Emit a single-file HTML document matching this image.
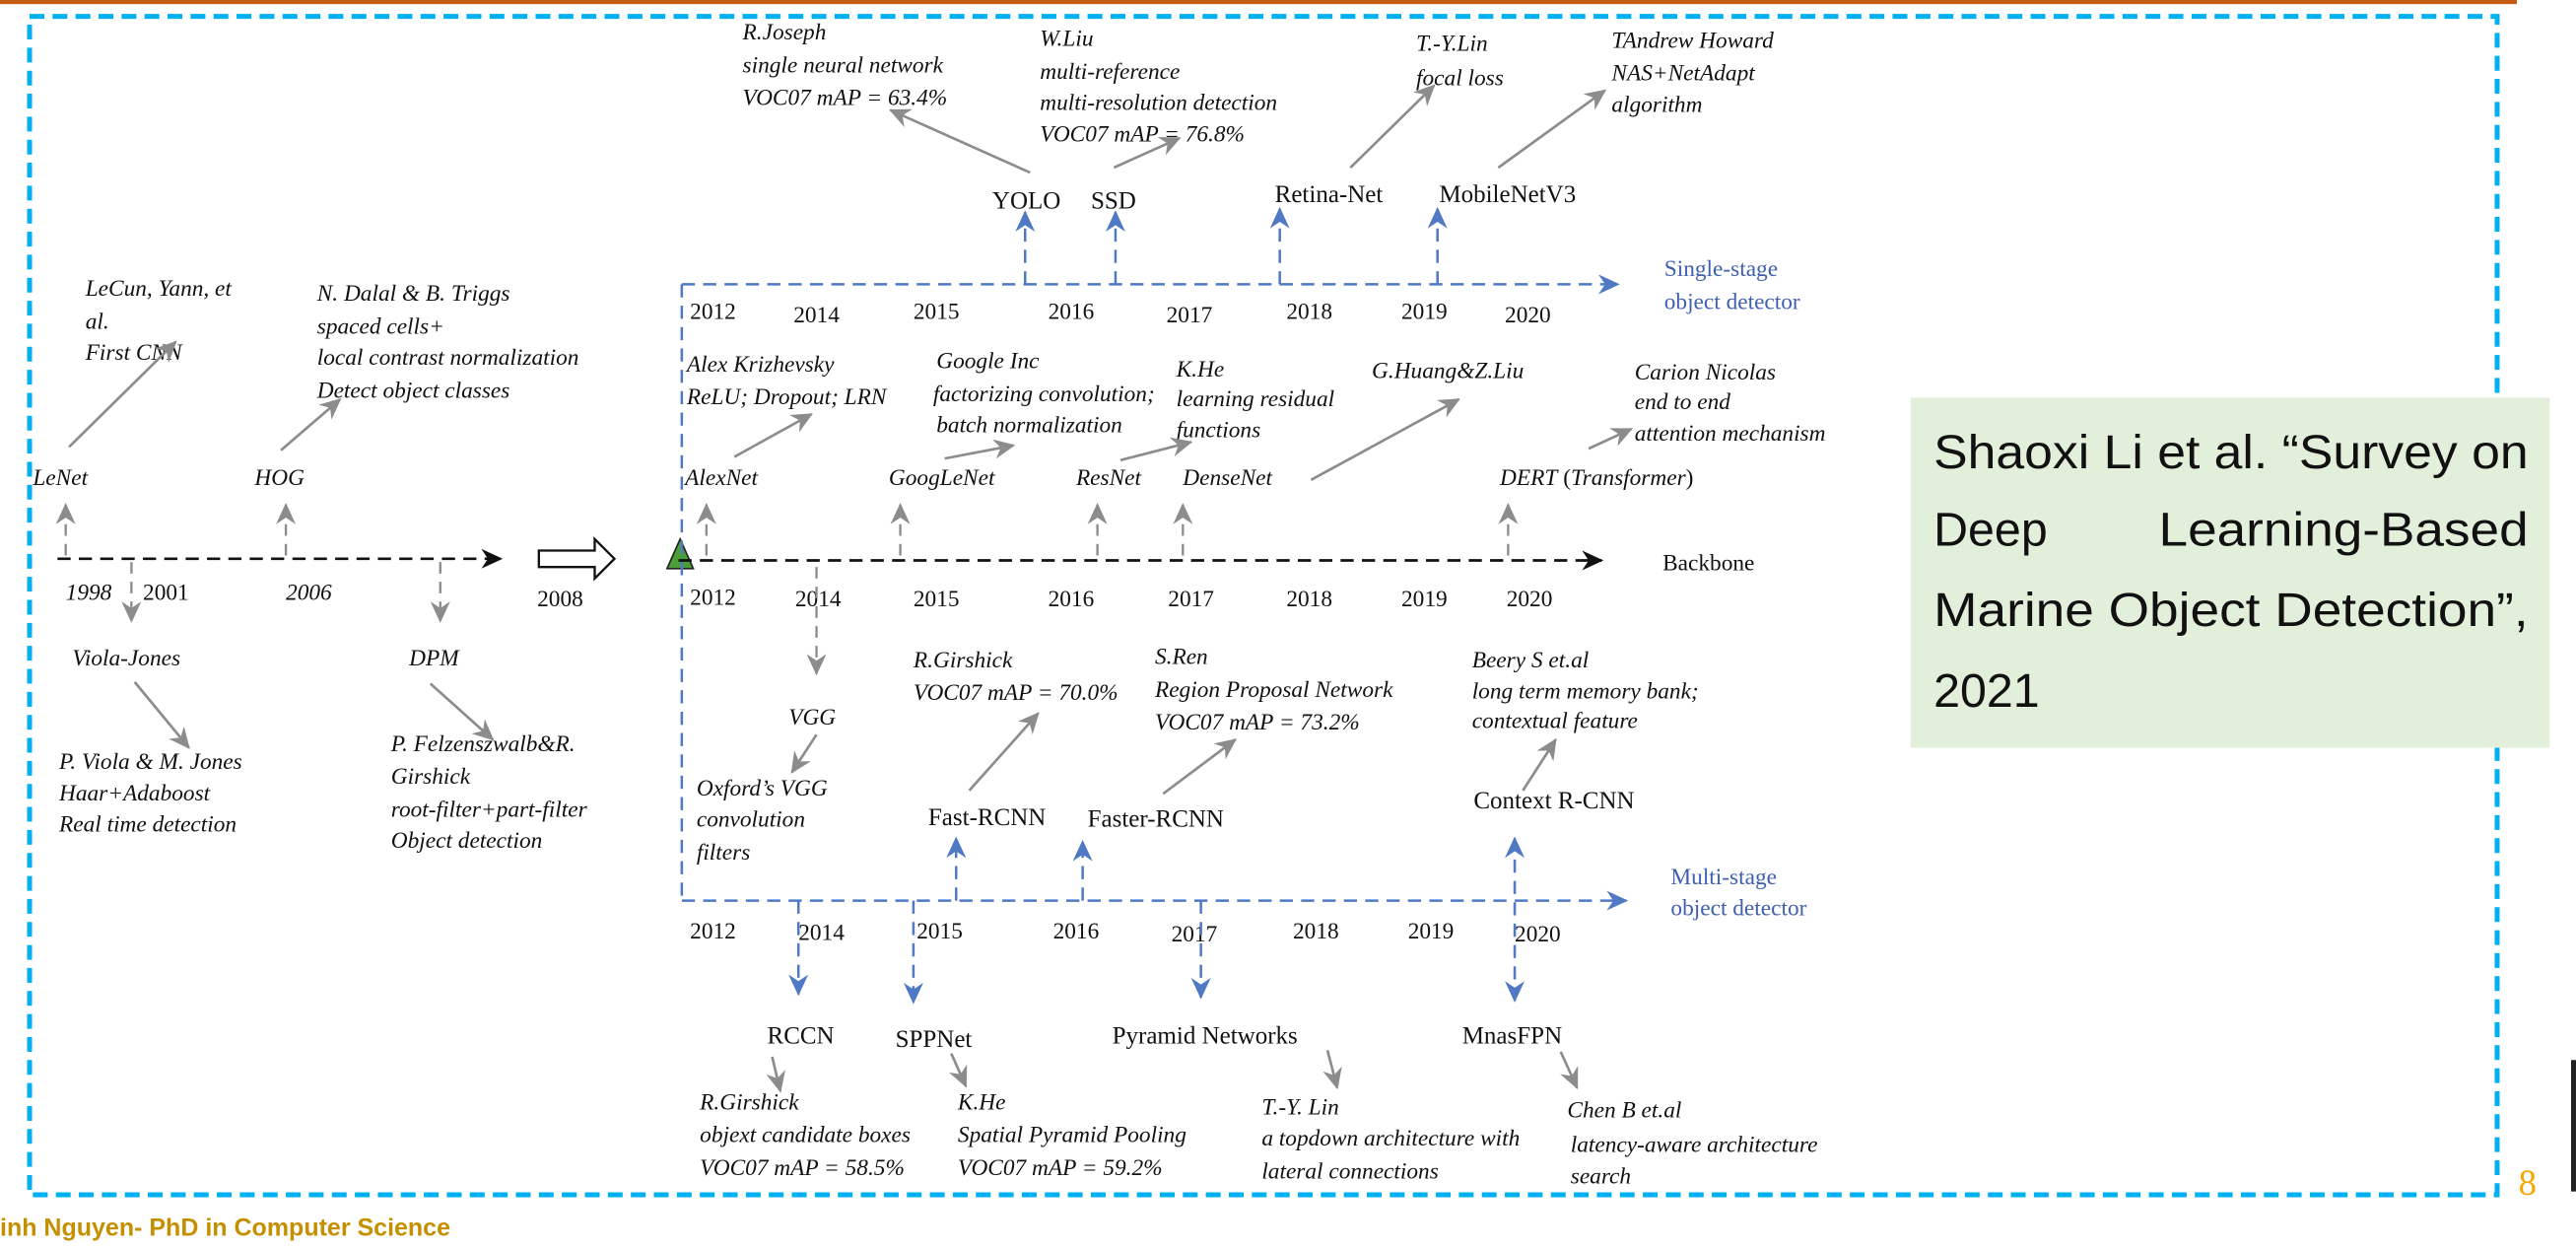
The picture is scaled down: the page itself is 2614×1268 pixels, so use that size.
<!DOCTYPE html>
<html><head><meta charset="utf-8"><style>
html,body{margin:0;padding:0;background:#fff;}
svg{display:block;}
text{font-family:"Liberation Serif",serif;font-size:14px;fill:#111;}
.i{font-style:italic;}
.b{fill:#3f5fb0;font-size:14px;}
.g{stroke:#8c8c8c;stroke-width:1.6;fill:none;}
.gd{stroke:#8c8c8c;stroke-width:1.4;fill:none;stroke-dasharray:7 5;}
.bd{stroke:#4f79c4;stroke-width:1.5;fill:none;stroke-dasharray:8 5;}
.kd{stroke:#111;stroke-width:1.6;fill:none;stroke-dasharray:8 5;}
.c{font-family:"Liberation Sans",sans-serif;font-size:29px;}
</style></head><body>
<svg width="2614" height="1268" viewBox="0 0 1568 760.6" xmlns="http://www.w3.org/2000/svg">
<defs>
<marker id="ag" markerUnits="userSpaceOnUse" markerWidth="14" markerHeight="12" refX="12" refY="6" orient="auto"><path d="M0,0 L13,6 L0,12 L4,6 Z" fill="#8c8c8c"/></marker>
<marker id="ab" markerUnits="userSpaceOnUse" markerWidth="14" markerHeight="12" refX="12" refY="6" orient="auto"><path d="M0,0 L13,6 L0,12 L4,6 Z" fill="#4f79c4"/></marker>
<marker id="abs" markerUnits="userSpaceOnUse" markerWidth="14" markerHeight="12" refX="2" refY="6" orient="auto"><path d="M14,0 L1,6 L14,12 L10,6 Z" fill="#4f79c4"/></marker>
<marker id="ak" markerUnits="userSpaceOnUse" markerWidth="14" markerHeight="12" refX="12" refY="6" orient="auto"><path d="M0,0 L13,6 L0,12 L4,6 Z" fill="#111"/></marker>
</defs>
<rect x="0" y="0" width="1532" height="2.5" fill="#c55a11"/>
<rect x="18" y="10" width="1502" height="717" fill="none" stroke="#00b0f0" stroke-width="3" stroke-dasharray="9 5"/>

<line class="kd" x1="35" y1="340" x2="305" y2="340" marker-end="url(#ak)"/>
<path d="M328,335 L362,335 L362,328 L374,340 L362,352 L362,345 L328,345 Z" fill="#fff" stroke="#111" stroke-width="1.4"/>
<polygon points="406,346 414,328 422,346" fill="#4a9e3a" stroke="#222" stroke-width="1"/>
<line class="kd" x1="413" y1="341" x2="975" y2="341" marker-end="url(#ak)"/>
<text x="1012" y="347">Backbone</text>

<g>
<text class="i" x="40" y="365">1998</text><text x="87" y="365">2001</text>
<text class="i" x="174" y="365">2006</text><text x="327" y="369">2008</text>
</g>
<g>
<text x="420" y="368">2012</text><text x="484" y="369">2014</text><text x="556" y="369">2015</text><text x="638" y="369">2016</text><text x="711" y="369">2017</text><text x="783" y="369">2018</text><text x="853" y="369">2019</text><text x="917" y="369">2020</text>
</g>

<g>
<line class="gd" x1="40" y1="338" x2="40" y2="307" marker-end="url(#ag)"/>
<line class="gd" x1="174" y1="338" x2="174" y2="307" marker-end="url(#ag)"/>
<line class="gd" x1="430" y1="338" x2="430" y2="307" marker-end="url(#ag)"/>
<line class="gd" x1="548" y1="338" x2="548" y2="307" marker-end="url(#ag)"/>
<line class="gd" x1="668" y1="338" x2="668" y2="307" marker-end="url(#ag)"/>
<line class="gd" x1="720" y1="338" x2="720" y2="307" marker-end="url(#ag)"/>
<line class="gd" x1="918" y1="338" x2="918" y2="307" marker-end="url(#ag)"/>
<line class="gd" x1="80" y1="342" x2="80" y2="378" marker-end="url(#ag)"/>
<line class="gd" x1="268" y1="342" x2="268" y2="378" marker-end="url(#ag)"/>
<line class="gd" x1="497" y1="345" x2="497" y2="410" marker-end="url(#ag)"/>
</g>

<text class="i" x="20" y="295">LeNet</text>
<text class="i" x="155" y="295">HOG</text>
<text class="i" x="417" y="295">AlexNet</text>
<text class="i" x="541" y="295">GoogLeNet</text>
<text class="i" x="655" y="295">ResNet</text>
<text class="i" x="720" y="295">DenseNet</text>
<text x="913" y="295"><tspan class="i">DERT</tspan> (<tspan class="i">Transformer</tspan>)</text>

<g><text class="i" x="52" y="180">LeCun, Yann, et</text><text class="i" x="52" y="200">al.</text><text class="i" x="52" y="219">First CNN</text></g>
<line class="g" x1="42" y1="272" x2="107" y2="208" marker-end="url(#ag)"/>
<g><text class="i" x="193" y="183">N. Dalal &amp; B. Triggs</text><text class="i" x="193" y="203">spaced cells+</text><text class="i" x="193" y="222">local contrast normalization</text><text class="i" x="193" y="242">Detect object classes</text></g>
<line class="g" x1="171" y1="274" x2="207" y2="243" marker-end="url(#ag)"/>
<g><text class="i" x="418" y="226">Alex Krizhevsky</text><text class="i" x="418" y="246">ReLU; Dropout; LRN</text></g>
<line class="g" x1="447" y1="278" x2="494" y2="252" marker-end="url(#ag)"/>
<g><text class="i" x="570" y="224">Google Inc</text><text class="i" x="568" y="244">factorizing convolution;</text><text class="i" x="570" y="263">batch normalization</text></g>
<line class="g" x1="575" y1="279" x2="617" y2="271" marker-end="url(#ag)"/>
<g><text class="i" x="716" y="229">K.He</text><text class="i" x="716" y="247">learning residual</text><text class="i" x="716" y="266">functions</text></g>
<line class="g" x1="682" y1="280" x2="725" y2="269" marker-end="url(#ag)"/>
<text class="i" x="835" y="230">G.Huang&amp;Z.Liu</text>
<line class="g" x1="798" y1="292" x2="888" y2="243" marker-end="url(#ag)"/>
<g><text class="i" x="995" y="231">Carion Nicolas</text><text class="i" x="995" y="249">end to end</text><text class="i" x="995" y="268">attention mechanism</text></g>
<line class="g" x1="967" y1="273" x2="993" y2="261" marker-end="url(#ag)"/>

<text class="i" x="44" y="405">Viola-Jones</text>
<line class="g" x1="82" y1="415" x2="115" y2="455" marker-end="url(#ag)"/>
<g><text class="i" x="36" y="468">P. Viola &amp; M. Jones</text><text class="i" x="36" y="487">Haar+Adaboost</text><text class="i" x="36" y="506">Real time detection</text></g>
<text class="i" x="249" y="405">DPM</text>
<line class="g" x1="262" y1="416" x2="300" y2="450" marker-end="url(#ag)"/>
<g><text class="i" x="238" y="457">P. Felzenszwalb&amp;R.</text><text class="i" x="238" y="477">Girshick</text><text class="i" x="238" y="497">root-filter+part-filter</text><text class="i" x="238" y="516">Object detection</text></g>

<line class="bd" x1="415" y1="173" x2="985" y2="173" marker-end="url(#ab)"/>
<line class="bd" x1="415" y1="173" x2="415" y2="548"/>
<text class="b" x="1013" y="168">Single-stage</text>
<text class="b" x="1013" y="188">object detector</text>
<g>
<text x="420" y="194">2012</text><text x="483" y="196">2014</text><text x="556" y="194">2015</text><text x="638" y="194">2016</text><text x="710" y="196">2017</text><text x="783" y="194">2018</text><text x="853" y="194">2019</text><text x="916" y="196">2020</text>
</g>
<g>
<line class="bd" x1="624" y1="173" x2="624" y2="129" marker-end="url(#ab)"/>
<line class="bd" x1="679" y1="173" x2="679" y2="129" marker-end="url(#ab)"/>
<line class="bd" x1="779" y1="173" x2="779" y2="127" marker-end="url(#ab)"/>
<line class="bd" x1="875" y1="173" x2="875" y2="127" marker-end="url(#ab)"/>
</g>
<text x="604" y="127" style="font-size:15px">YOLO</text>
<text x="664" y="127" style="font-size:15px">SSD</text>
<text x="776" y="123" style="font-size:15px">Retina-Net</text>
<text x="876" y="123" style="font-size:15px">MobileNetV3</text>
<line class="g" x1="627" y1="105" x2="542" y2="67" marker-end="url(#ag)"/>
<line class="g" x1="678" y1="102" x2="718" y2="84" marker-end="url(#ag)"/>
<line class="g" x1="822" y1="102" x2="873" y2="52" marker-end="url(#ag)"/>
<line class="g" x1="912" y1="102" x2="977" y2="55" marker-end="url(#ag)"/>
<g><text class="i" x="452" y="24">R.Joseph</text><text class="i" x="452" y="44">single neural network</text><text class="i" x="452" y="64">VOC07 mAP = 63.4%</text></g>
<g><text class="i" x="633" y="28">W.Liu</text><text class="i" x="633" y="48">multi-reference</text><text class="i" x="633" y="67">multi-resolution detection</text><text class="i" x="633" y="86">VOC07 mAP = 76.8%</text></g>
<g><text class="i" x="862" y="31">T.-Y.Lin</text><text class="i" x="862" y="52">focal loss</text></g>
<g><text class="i" x="981" y="29">TAndrew Howard</text><text class="i" x="981" y="49">NAS+NetAdapt</text><text class="i" x="981" y="68">algorithm</text></g>

<line class="bd" x1="415" y1="548" x2="990" y2="548" marker-end="url(#ab)"/>
<text class="b" x="1017" y="538">Multi-stage</text>
<text class="b" x="1017" y="557">object detector</text>
<g>
<text x="420" y="571">2012</text><text x="486" y="572">2014</text><text x="558" y="571">2015</text><text x="641" y="571">2016</text><text x="713" y="573">2017</text><text x="787" y="571">2018</text><text x="857" y="571">2019</text><text x="922" y="573">2020</text>
</g>
<g>
<line class="bd" x1="582" y1="548" x2="582" y2="510" marker-end="url(#ab)"/>
<line class="bd" x1="659" y1="548" x2="659" y2="512" marker-end="url(#ab)"/>
<line class="bd" x1="922" y1="510" x2="922" y2="609" marker-start="url(#abs)" marker-end="url(#ab)"/>
<line class="bd" x1="486" y1="548" x2="486" y2="605" marker-end="url(#ab)"/>
<line class="bd" x1="556" y1="548" x2="556" y2="610" marker-end="url(#ab)"/>
<line class="bd" x1="731" y1="548" x2="731" y2="607" marker-end="url(#ab)"/>
</g>
<text class="i" x="480" y="441">VGG</text>
<line class="g" x1="497" y1="447" x2="482" y2="470" marker-end="url(#ag)"/>
<g><text class="i" x="424" y="484">Oxford’s VGG</text><text class="i" x="424" y="503">convolution</text><text class="i" x="424" y="523">filters</text></g>
<text x="565" y="502" style="font-size:15px">Fast-RCNN</text>
<text x="662" y="503" style="font-size:15px">Faster-RCNN</text>
<text x="897" y="492" style="font-size:15px">Context R-CNN</text>
<line class="g" x1="590" y1="481" x2="632" y2="434" marker-end="url(#ag)"/>
<line class="g" x1="708" y1="483" x2="752" y2="450" marker-end="url(#ag)"/>
<line class="g" x1="927" y1="481" x2="947" y2="450" marker-end="url(#ag)"/>
<g><text class="i" x="556" y="406">R.Girshick</text><text class="i" x="556" y="426">VOC07 mAP = 70.0%</text></g>
<g><text class="i" x="703" y="404">S.Ren</text><text class="i" x="703" y="424">Region Proposal Network</text><text class="i" x="703" y="444">VOC07 mAP = 73.2%</text></g>
<g><text class="i" x="896" y="406">Beery S et.al</text><text class="i" x="896" y="425">long term memory bank;</text><text class="i" x="896" y="443">contextual feature</text></g>

<text x="467" y="635" style="font-size:15px">RCCN</text>
<text x="545" y="637" style="font-size:15px">SPPNet</text>
<text x="677" y="635" style="font-size:15px">Pyramid Networks</text>
<text x="890" y="635" style="font-size:15px">MnasFPN</text>
<line class="g" x1="470" y1="643" x2="475" y2="664" marker-end="url(#ag)"/>
<line class="g" x1="579" y1="641" x2="588" y2="661" marker-end="url(#ag)"/>
<line class="g" x1="808" y1="639" x2="814" y2="662" marker-end="url(#ag)"/>
<line class="g" x1="950" y1="640" x2="960" y2="662" marker-end="url(#ag)"/>
<g><text class="i" x="426" y="675">R.Girshick</text><text class="i" x="426" y="695">objext candidate boxes</text><text class="i" x="426" y="715">VOC07 mAP = 58.5%</text></g>
<g><text class="i" x="583" y="675">K.He</text><text class="i" x="583" y="695">Spatial Pyramid Pooling</text><text class="i" x="583" y="715">VOC07 mAP = 59.2%</text></g>
<g><text class="i" x="768" y="678">T.-Y. Lin</text><text class="i" x="768" y="697">a topdown architecture with</text><text class="i" x="768" y="717">lateral connections</text></g>
<g><text class="i" x="954" y="680">Chen B et.al</text><text class="i" x="956" y="701">latency-aware architecture</text><text class="i" x="956" y="720">search</text></g>

<g>
<rect x="1163" y="242" width="389" height="213" fill="#e2efda"/>
<text class="c" x="1177" y="285" textLength="362" lengthAdjust="spacingAndGlyphs">Shaoxi Li et al. “Survey on</text>
<text class="c" x="1177" y="332">Deep</text>
<text class="c" x="1539" y="332" text-anchor="end" textLength="225" lengthAdjust="spacingAndGlyphs">Learning-Based</text>
<text class="c" x="1177" y="381" textLength="362" lengthAdjust="spacingAndGlyphs">Marine Object Detection”,</text>
<text class="c" x="1177" y="430">2021</text>
</g>

<text x="0" y="752" style="font-family:'Liberation Sans',sans-serif;font-size:15px;font-weight:bold;fill:#c59000">inh Nguyen- PhD in Computer Science</text>
<text x="1533" y="727" style="font-size:22px;fill:#f5a800">8</text>
<rect x="1565" y="645" width="3" height="80" fill="#222"/>
</svg>
</body></html>
